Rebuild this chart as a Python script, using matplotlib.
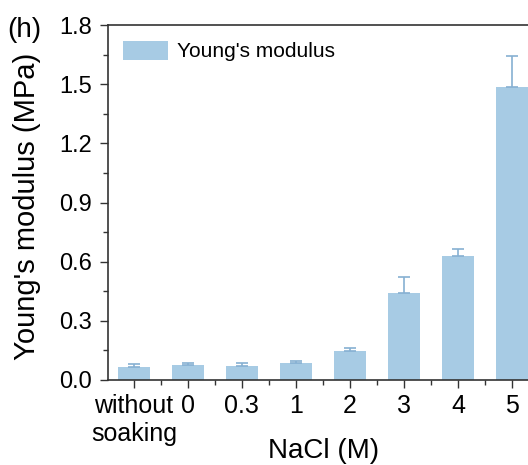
import matplotlib
matplotlib.use("Agg")
import matplotlib.pyplot as plt
from matplotlib.ticker import FixedLocator
import numpy as np

plt.rcParams['font.family'] = ['Liberation Sans', 'DejaVu Sans']

categories = ["without\nsoaking", "0", "0.3", "1", "2", "3", "4", "5"]
modulus = [0.067, 0.074, 0.069, 0.084, 0.147, 0.44, 0.63, 1.487]
err_upper = [0.012, 0.010, 0.015, 0.012, 0.015, 0.08, 0.035, 0.158]
yticks = [0.0, 0.3, 0.6, 0.9, 1.2, 1.5, 1.8]

bar_color = "#a7cbe4"
err_color = "#86b0d2"

fig = plt.figure(figsize=(5.28, 4.65), dpi=100)
ax = fig.add_axes([0.2036, 0.1828, 0.817, 0.7634])

x = np.arange(len(categories))
ax.bar(x, modulus, width=0.6, color=bar_color, label="Young's modulus", zorder=2)
ax.errorbar(x, modulus, yerr=[np.zeros(len(x)), err_upper], fmt="none",
            ecolor=err_color, elinewidth=1.2, capsize=4.5, capthick=1.2, zorder=3)

ax.set_xlim(-0.49, 7.5)
ax.set_ylim(0, 1.8)
ax.yaxis.set_major_locator(FixedLocator(yticks))
ax.yaxis.set_minor_locator(FixedLocator([v + 0.15 for v in yticks[:-1]]))
ax.set_yticklabels([f"{v:.1f}" for v in yticks])
ax.set_xticks(x)
ax.set_xticklabels(categories)
ax.xaxis.set_minor_locator(FixedLocator(x[:-1] + 0.5))

for s in ax.spines.values():
    s.set_color("#333333")
    s.set_linewidth(1.2)

ax.tick_params(axis="both", which="major", direction="out", length=6, width=1.0,
               colors="#333333", labelcolor="black")
ax.tick_params(axis="y", which="major", labelsize=17, pad=5)
ax.tick_params(axis="x", which="major", labelsize=18, pad=4)
ax.tick_params(axis="both", which="minor", direction="out", length=3.5, width=1.0,
               colors="#333333")

ax.set_xlabel("NaCl (M)", fontsize=20, va="center")
ax.xaxis.set_label_coords(0.5, -0.2)
ax.set_ylabel("Young's modulus (MPa)", fontsize=21, va="center")
ax.yaxis.set_label_coords(-0.187, 0.49)

ax.legend(loc="upper left", fontsize=15, frameon=False, handlelength=2.16,
          handleheight=1.06, handletextpad=0.43, borderaxespad=0.35,
          bbox_to_anchor=(0.0, 1.0))

fig.text(0.013, 0.963, "(h)", fontsize=20, ha="left", va="top")

fig.savefig("out.png", dpi=100)
